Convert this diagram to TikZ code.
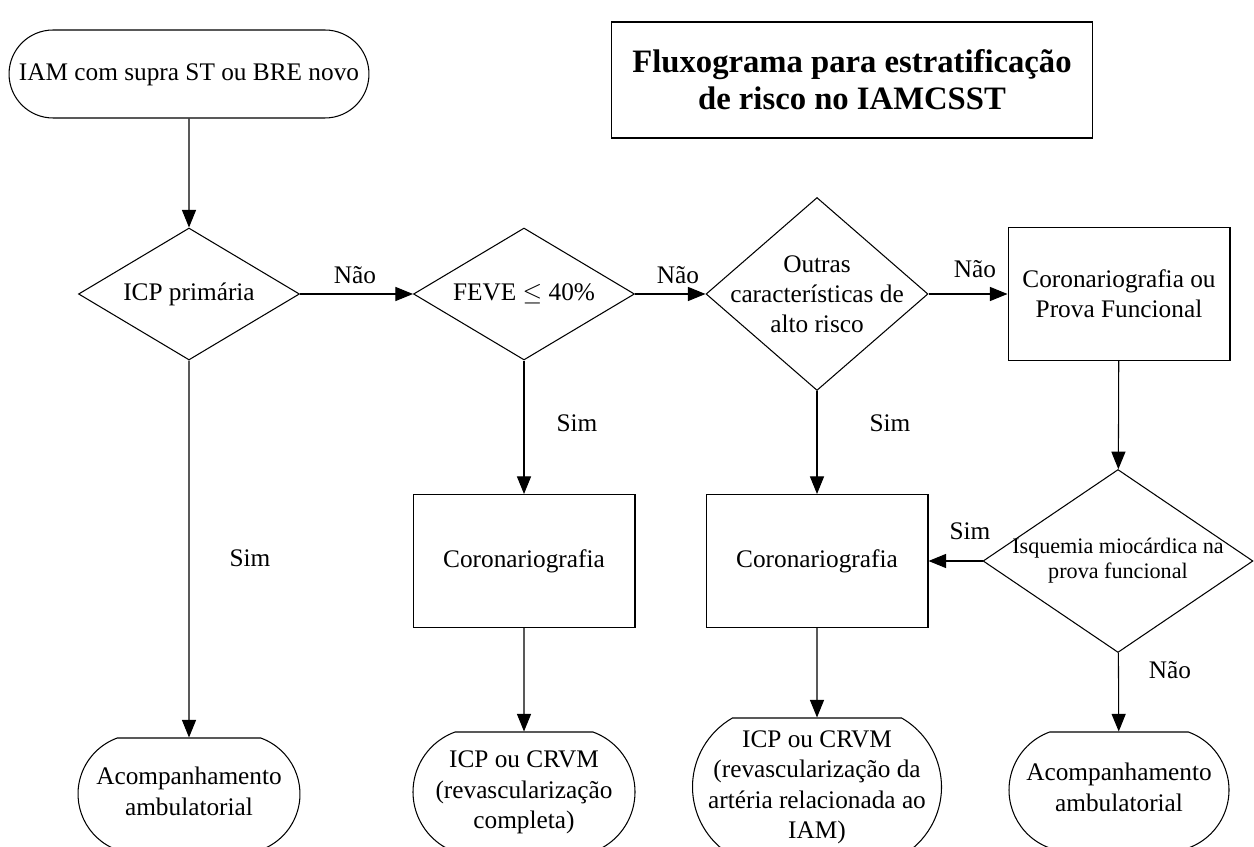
\documentclass[tikz,border=0pt]{standalone}
\usepackage{fontspec}
\setmainfont{Liberation Serif}
\usetikzlibrary{shapes.geometric,shapes.misc,arrows.meta}

% text centred over a narrow box, so that it may run into the round ends
\newcommand{\textocentro}[1]{\makebox[1cm]{\begin{tabular}{@{}c@{}}#1\end{tabular}}}

\tikzset{
  caixa/.style={draw, rectangle, align=center, minimum width=4.44cm, minimum height=2.66cm},
  decisao/.style={draw, diamond, align=center, inner xsep=-1.5cm, inner ysep=-1cm},
  terminal/.style={draw, rounded rectangle, rounded rectangle arc length=140,
    inner xsep=0pt, inner ysep=0pt},
  seta/.style={-{Triangle[length=10pt,width=8pt]}},
  rotulo/.style={anchor=base},
}

\begin{document}
\begin{tikzpicture}[x=0.02cm, y=-0.02cm, line width=0.6pt,
    font=\fontsize{14.4}{17.1}\selectfont]
        \useasboundingbox (0,0) rectangle (1254,847);
        %% Title
        \node[draw, align=center, minimum width=9.62cm, minimum height=2.32cm,
              font=\bfseries\fontsize{18.6}{21}\selectfont] (titulo) at (852,80)
              {Fluxograma para estratificação\\de risco no IAMCSST};
        %% Boxes
        \node[terminal, rounded rectangle arc length=180, minimum width=7.2cm,
              minimum height=1.76cm] (inicio) at (189,74) {\textocentro{IAM com supra ST ou BRE novo}};
        \node[decisao, minimum width=4.42cm, minimum height=2.64cm] (icp) at (189,294) {ICP primária};
        \node[decisao, minimum width=4.42cm, minimum height=2.64cm] (feve) at (524,294) {FEVE $\leq$ 40\%};
        \node[decisao, minimum width=4.44cm, minimum height=3.86cm] (outras) at (817,294)
              {Outras\\características de\\alto risco};
        \node[caixa] (prova) at (1119,294) {Coronariografia ou\\Prova Funcional};
        \node[caixa] (coro1) at (524,561) {Coronariografia};
        \node[caixa] (coro2) at (817,561) {Coronariografia};
        \node[decisao, minimum width=5.4cm, minimum height=3.66cm,
              font=\fontsize{12.6}{14.2}\selectfont] (isquemia) at (1118,561)
              {Isquemia miocárdica na\\prova funcional};
        %% Ends
        \node[terminal, minimum width=4.44cm, minimum height=2.24cm] (fim1) at (189,794)
              {\textocentro{Acompanhamento\\ambulatorial}};
        \node[terminal, minimum width=4.44cm, minimum height=2.4cm] (fim2) at (524,792)
              {\textocentro{ICP ou CRVM\\(revascularização\\completa)}};
        \node[terminal, rounded rectangle arc length=120, minimum width=4.98cm,
              minimum height=2.76cm] (fim3) at (817,787)
              {\textocentro{ICP ou CRVM\\(revascularização da\\artéria relacionada ao\\IAM)}};
        \node[terminal, minimum width=4.4cm, minimum height=2.32cm] (fim4) at (1119,790)
              {\textocentro{Acompanhamento\\ambulatorial}};
        %% Arrows
        \draw[seta] (inicio) -- (icp);
        \draw[seta] (icp) -- (feve);
        \draw[seta] (feve) -- (outras);
        \draw[seta] (outras) -- (prova);
        \draw[seta] (icp) -- (fim1);
        \draw[seta] (feve) -- (coro1);
        \draw[seta] (outras) -- (coro2);
        \draw[seta] (prova) -- (isquemia);
        \draw[seta] (isquemia) -- (coro2);
        \draw[seta] (isquemia) -- (fim4);
        \draw[seta] (coro1) -- (fim2);
        \draw[seta] (coro2) -- (fim3);
        %% Labels
        \node[rotulo] (nao1) at (355,284) {Não};
        \node[rotulo] (nao2) at (678,284) {Não};
        \node[rotulo] (nao3) at (975,278) {Não};
        \node[rotulo] (sim1) at (250,566) {Sim};
        \node[rotulo] (sim2) at (577,432) {Sim};
        \node[rotulo] (sim3) at (890,432) {Sim};
        \node[rotulo] (sim4) at (970,540) {Sim};
        \node[rotulo] (nao4) at (1170,678) {Não};
    \end{tikzpicture}
\end{document}
